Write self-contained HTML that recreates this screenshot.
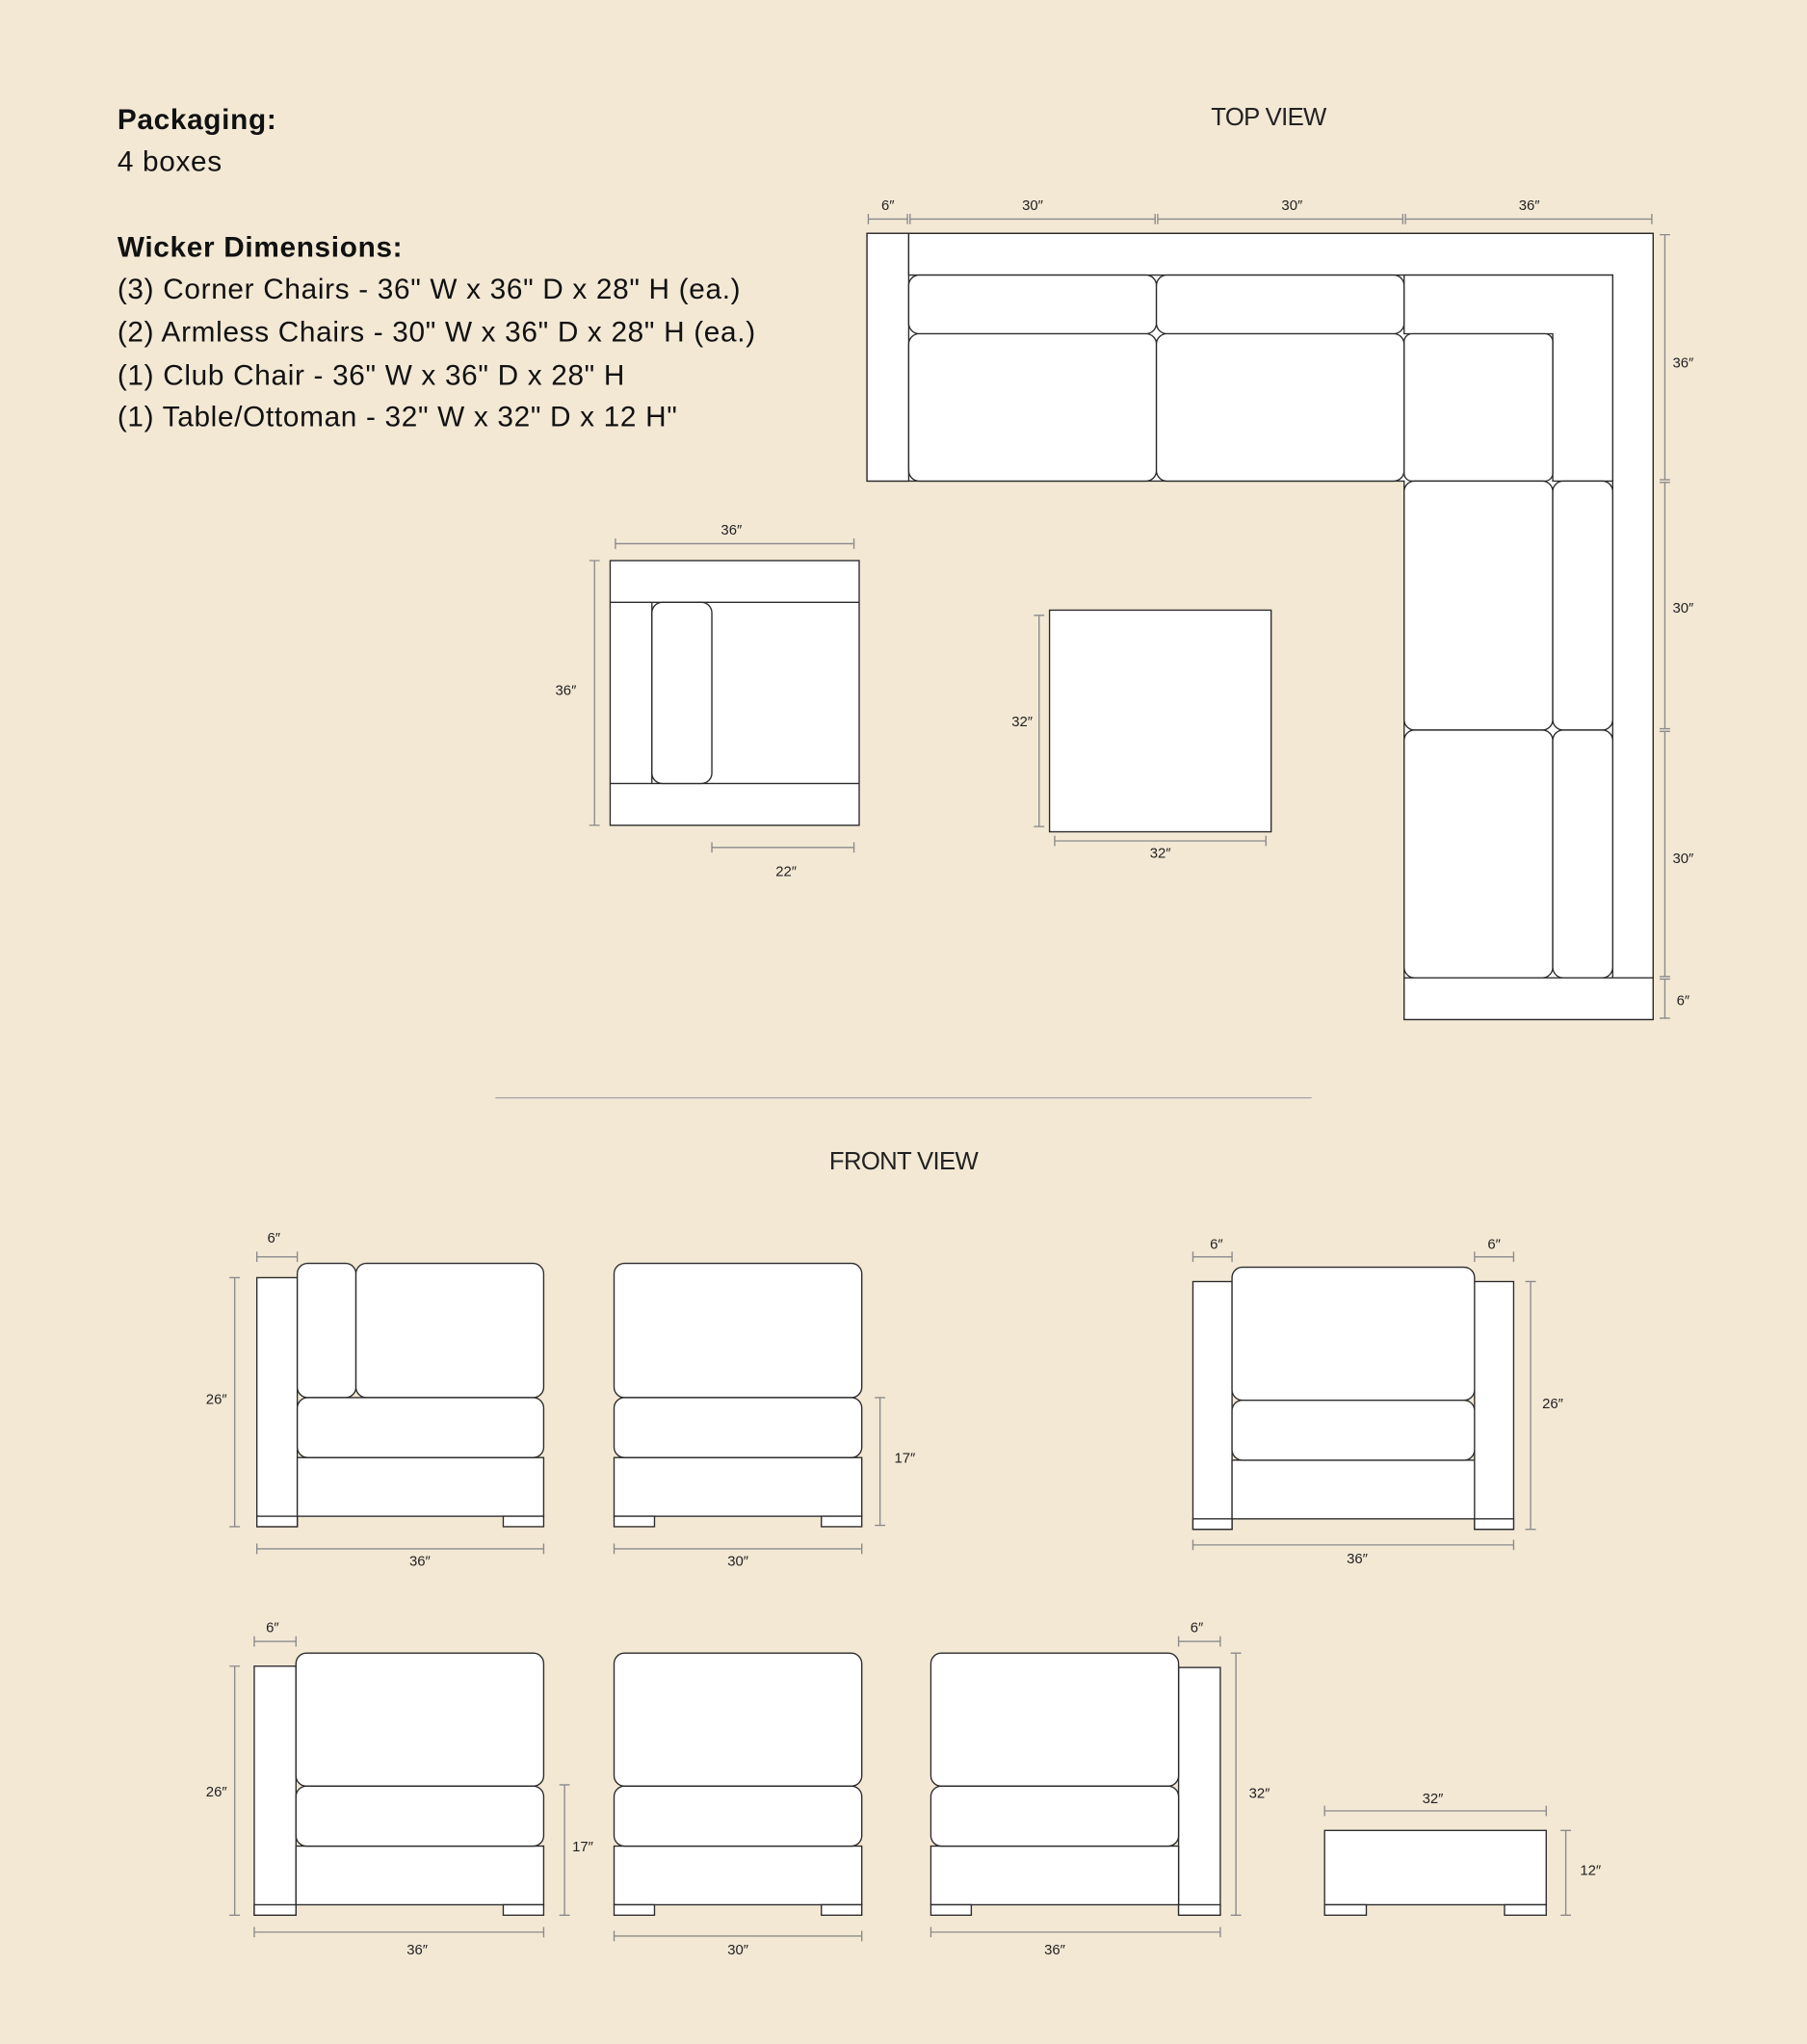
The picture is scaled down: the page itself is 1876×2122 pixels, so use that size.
<!DOCTYPE html>
<html><head><meta charset="utf-8"><style>
html,body{margin:0;padding:0;background:#f3e8d4;}
svg{display:block}
.s{fill:#fff;stroke:#2a2a2a;stroke-width:1}
.d{stroke:#8a8a8a;stroke-width:1;fill:none}
.t{font-family:"Liberation Sans Narrow","Liberation Sans",sans-serif;font-size:11px;fill:#222;text-anchor:middle}
.h{font-family:"Liberation Sans Narrow","Liberation Sans",sans-serif;font-size:19px;fill:#222;text-anchor:middle;letter-spacing:-0.5px}
.p{font-family:"Liberation Sans",sans-serif;font-size:22px;fill:#111;letter-spacing:0.5px}
</style></head><body>
<svg width="1876" height="2122" viewBox="0 0 1386 1567.8" xmlns="http://www.w3.org/2000/svg">
<rect width="1386" height="1567.8" fill="#f3e8d4"/>
<text class="p" x="90" y="99" font-weight="bold">Packaging:</text>
<text class="p" x="90" y="131">4 boxes</text>
<text class="p" x="90" y="197" font-weight="bold">Wicker Dimensions:</text>
<text class="p" x="90" y="229">(3) Corner Chairs - 36" W x 36" D x 28" H (ea.)</text>
<text class="p" x="90" y="262">(2) Armless Chairs - 30" W x 36" D x 28" H (ea.)</text>
<text class="p" x="90" y="295">(1) Club Chair - 36" W x 36" D x 28" H</text>
<text class="p" x="90" y="327">(1) Table/Ottoman - 32" W x 32" D x 12 H"</text>

<text class="h" x="973" y="96">TOP VIEW</text>
<text class="h" x="693" y="897">FRONT VIEW</text>
<line x1="380" y1="842" x2="1006" y2="842" stroke="#aaa" stroke-width="1"/>

<path class="s" d="M665 179H1268V782H1077V369H665Z"/>
<rect class="s" x="665" y="179" width="32" height="190"/>
<path class="s" d="M697 179H1268V750H1237V211H697Z"/>
<rect class="s" x="697" y="211" width="190" height="45" rx="8"/>
<rect class="s" x="887" y="211" width="190" height="45" rx="8"/>
<path class="s" d="M1077 211H1237V369H1191V256H1077Z"/>
<rect class="s" x="697" y="256" width="190" height="113" rx="8"/>
<rect class="s" x="887" y="256" width="190" height="113" rx="8"/>
<rect class="s" x="1077" y="256" width="114" height="113" rx="6"/>
<rect class="s" x="1077" y="369" width="114" height="191" rx="8"/>
<rect class="s" x="1077" y="560" width="114" height="190" rx="8"/>
<rect class="s" x="1191" y="369" width="46" height="191" rx="8"/>
<rect class="s" x="1191" y="560" width="46" height="190" rx="8"/>
<rect class="s" x="1077" y="750" width="191" height="32"/>
<g class="d">
<path d="M666 168H696M698 168H886M888 168H1076M1078 168H1267M666 164v8M696 164v8M698 164v8M886 164v8M888 164v8M1076 164v8M1078 164v8M1267 164v8"/>
<path d="M1277 180V368M1277 370V559M1277 561V749M1277 751V781M1273 180h8M1273 368h8M1273 370h8M1273 559h8M1273 561h8M1273 749h8M1273 751h8M1273 781h8"/>
</g>
<text class="t" x="681" y="161">6″</text><text class="t" x="792" y="161">30″</text><text class="t" x="991" y="161">30″</text><text class="t" x="1173" y="161">36″</text>
<text class="t" x="1291" y="282">36″</text><text class="t" x="1291" y="470">30″</text><text class="t" x="1291" y="662">30″</text><text class="t" x="1291" y="771">6″</text>

<rect class="s" x="468" y="430" width="191" height="203"/>
<line x1="468" y1="462" x2="659" y2="462" stroke="#2a2a2a"/>
<line x1="468" y1="601" x2="659" y2="601" stroke="#2a2a2a"/>
<line x1="500" y1="462" x2="500" y2="601" stroke="#2a2a2a"/>
<rect class="s" x="500" y="462" width="46" height="139" rx="8"/>
<g class="d"><path d="M472 417H655M472 413v8M655 413v8M456 430V633M452 430h8M452 633h8M546 650H655M546 646v8M655 646v8"/></g>
<text class="t" x="561" y="410">36″</text><text class="t" x="434" y="533">36″</text><text class="t" x="603" y="672">22″</text>
<rect class="s" x="805" y="468" width="170" height="170"/>
<g class="d"><path d="M797 472V634M793 472h8M793 634h8M809 645H971M809 641v8M971 641v8"/></g>
<text class="t" x="784" y="557">32″</text><text class="t" x="890" y="658">32″</text>

<rect class="s" x="197" y="980" width="31" height="191"/>
<rect class="s" x="228" y="1118" width="189" height="45"/>
<rect class="s" x="228" y="969" width="45" height="103" rx="8"/>
<rect class="s" x="273" y="969" width="144" height="103" rx="8"/>
<rect class="s" x="228" y="1072" width="189" height="46" rx="8"/>
<rect class="s" x="197" y="1163" width="31" height="8"/><rect class="s" x="386" y="1163" width="31" height="8"/>
<g class="d"><path d="M197 964H228M197 960v8M228 960v8M180 980V1171M176 980h8M176 1171h8M197 1188H417M197 1184v8M417 1184v8"/></g>
<text class="t" x="210" y="953">6″</text><text class="t" x="166" y="1077">26″</text><text class="t" x="322" y="1201">36″</text>
<rect class="s" x="471" y="1118" width="190" height="45"/>
<rect class="s" x="471" y="969" width="190" height="103" rx="8"/>
<rect class="s" x="471" y="1072" width="190" height="46" rx="8"/>
<rect class="s" x="471" y="1163" width="31" height="8"/><rect class="s" x="630" y="1163" width="31" height="8"/>
<g class="d"><path d="M471 1188H661M471 1184v8M661 1184v8M675 1072V1170M671 1072h8M671 1170h8"/></g>
<text class="t" x="566" y="1201">30″</text><text class="t" x="694" y="1122">17″</text>
<rect class="s" x="915" y="983" width="30" height="190"/><rect class="s" x="1131" y="983" width="30" height="190"/>
<rect class="s" x="945" y="1120" width="186" height="45"/>
<rect class="s" x="945" y="972" width="186" height="102" rx="8"/>
<rect class="s" x="945" y="1074" width="186" height="46" rx="8"/>
<rect class="s" x="915" y="1165" width="30" height="8"/><rect class="s" x="1131" y="1165" width="30" height="8"/>
<g class="d"><path d="M915 964H945M915 960v8M945 960v8M1131 964H1161M1131 960v8M1161 960v8M1174 983V1173M1170 983h8M1170 1173h8M915 1185H1161M915 1181v8M1161 1181v8"/></g>
<text class="t" x="933" y="958">6″</text><text class="t" x="1146" y="958">6″</text><text class="t" x="1191" y="1080">26″</text><text class="t" x="1041" y="1199">36″</text>

<rect class="s" x="195" y="1278" width="32" height="191"/>
<rect class="s" x="227" y="1416" width="190" height="45"/>
<rect class="s" x="227" y="1268" width="190" height="102" rx="8"/>
<rect class="s" x="227" y="1370" width="190" height="46" rx="8"/>
<rect class="s" x="195" y="1461" width="32" height="8"/><rect class="s" x="386" y="1461" width="31" height="8"/>
<g class="d"><path d="M195 1259H227M195 1255v8M227 1255v8M180 1278V1469M176 1278h8M176 1469h8M195 1482H417M195 1478v8M417 1478v8M433 1369V1469M429 1369h8M429 1469h8"/></g>
<text class="t" x="209" y="1252">6″</text><text class="t" x="166" y="1378">26″</text><text class="t" x="320" y="1499">36″</text><text class="t" x="447" y="1420">17″</text>
<rect class="s" x="471" y="1416" width="190" height="45"/>
<rect class="s" x="471" y="1268" width="190" height="102" rx="8"/>
<rect class="s" x="471" y="1370" width="190" height="46" rx="8"/>
<rect class="s" x="471" y="1461" width="31" height="8"/><rect class="s" x="630" y="1461" width="31" height="8"/>
<g class="d"><path d="M471 1485H661M471 1481v8M661 1481v8"/></g>
<text class="t" x="566" y="1499">30″</text>
<rect class="s" x="904" y="1279" width="32" height="190"/>
<rect class="s" x="714" y="1416" width="190" height="45"/>
<rect class="s" x="714" y="1268" width="190" height="102" rx="8"/>
<rect class="s" x="714" y="1370" width="190" height="46" rx="8"/>
<rect class="s" x="714" y="1461" width="31" height="8"/><rect class="s" x="904" y="1461" width="32" height="8"/>
<g class="d"><path d="M904 1259H936M904 1255v8M936 1255v8M948 1268V1469M944 1268h8M944 1469h8M714 1482H936M714 1478v8M936 1478v8"/></g>
<text class="t" x="918" y="1252">6″</text><text class="t" x="966" y="1379">32″</text><text class="t" x="809" y="1499">36″</text>
<rect class="s" x="1016" y="1404" width="170" height="57"/>
<rect class="s" x="1016" y="1461" width="32" height="8"/><rect class="s" x="1154" y="1461" width="32" height="8"/>
<g class="d"><path d="M1016 1389H1186M1016 1385v8M1186 1385v8M1201 1404V1469M1197 1404h8M1197 1469h8"/></g>
<text class="t" x="1099" y="1383">32″</text><text class="t" x="1220" y="1438">12″</text>
</svg>
</body></html>
